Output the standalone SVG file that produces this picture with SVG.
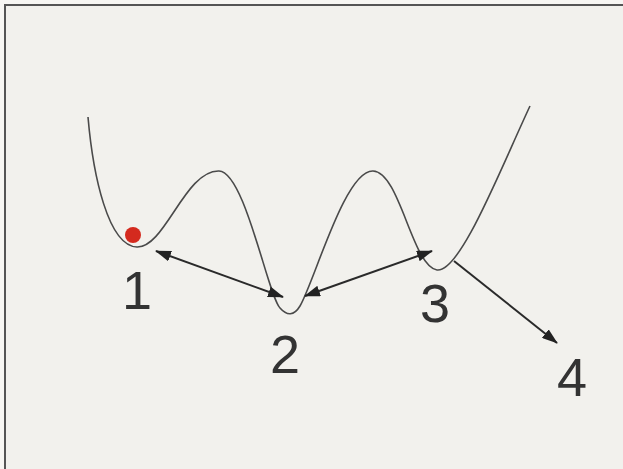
<svg xmlns="http://www.w3.org/2000/svg" width="623" height="469" viewBox="0 0 623 469">
<defs>
<style>
.curve{fill:none;stroke:#4a4a4a;stroke-width:1.6}
.arrow{fill:none;stroke:#2a2a2a;stroke-width:2}
.lbl{font-family:"Liberation Sans",Arial,sans-serif;font-size:54px;fill:#333}
</style>
<marker id="ah" viewBox="0 0 16 11" refX="15" refY="5.5" markerWidth="16" markerHeight="11" markerUnits="userSpaceOnUse" orient="auto-start-reverse">
<path d="M0,0 L16,5.5 L0,11 z" fill="#222"/>
</marker>
</defs>
<rect x="0" y="0" width="623" height="469" fill="#f7f6f3"/>
<rect x="5" y="5" width="620" height="466" fill="#f2f1ed"/>
<path d="M5,470 V5 H623" fill="none" stroke="#555" stroke-width="2"/>
<g id="landscape">
<path class="curve" d="M88,117 C93,175 108,246 137,247 C165,248 185,170 219,171 C245,172 268,296 280,308 C287,316 294,316 300,306 C315,280 345,170 373,171 C400,172 412,266 437,270 C460,273 500,170 530,106"/>
</g>
<g id="ball">
<circle cx="133" cy="235" r="8" fill="#d42a1e"/>
</g>
<g id="connectors">
<line class="arrow" x1="156" y1="251" x2="283" y2="297" marker-start="url(#ah)" marker-end="url(#ah)"/>
<line class="arrow" x1="305" y1="296" x2="432" y2="251" marker-start="url(#ah)" marker-end="url(#ah)"/>
<line class="arrow" x1="454" y1="261" x2="557" y2="343" marker-end="url(#ah)"/>
</g>
<g id="label1"><text class="lbl" x="122" y="309">1</text></g>
<g id="label2"><text class="lbl" x="270" y="373">2</text></g>
<g id="label3"><text class="lbl" x="420" y="322">3</text></g>
<g id="label4"><text class="lbl" x="557" y="396">4</text></g>
</svg>
